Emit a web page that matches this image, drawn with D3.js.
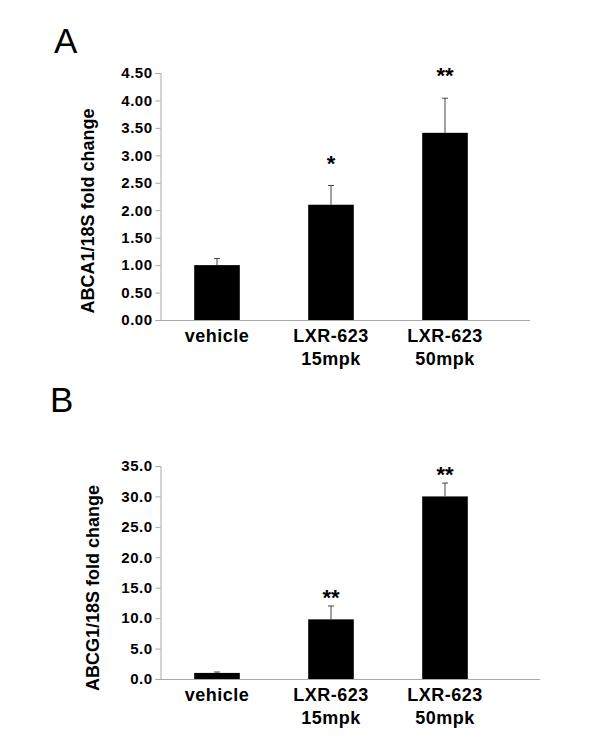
<!DOCTYPE html>
<html>
<head>
<meta charset="utf-8">
<script src="https://cdn.jsdelivr.net/npm/d3@7"></script>
<style>
  body { margin: 0; background: #fff; }
  svg text { font-family: Arial, "Liberation Sans", sans-serif; }
</style>
</head>
<body>
<div id="chart"></div>
<script>
var categories = ["vehicle", "LXR-623 15mpk", "LXR-623 50mpk"];
var abca1Mean = [1.00, 2.10, 3.41];
var abca1Err = [0.12, 0.35, 0.63];
var abca1Stars = ["", "*", "**"];
var abcg1Mean = [1.0, 9.8, 30.0];
var abcg1Err = [0.15, 2.2, 2.2];
var abcg1Stars = ["", "**", "**"];
var abca1Ticks = [0, 0.5, 1, 1.5, 2, 2.5, 3, 3.5, 4, 4.5];
var abcg1Ticks = [0, 5, 10, 15, 20, 25, 30, 35];

var svg = d3.select("#chart")
    .append("svg")
    .attr("width", 600)
    .attr("height", 741);

var x = d3.scaleBand()
    .domain(categories)
    .range([160, 502])
    .paddingInner(0.6)
    .paddingOuter(0.3);

// one panel: letter, axes, bars, error bars, stars
function drawPanel(p) {
    var y = d3.scaleLinear().domain([0, p.max]).range([p.bottom, p.top]);
    var g = svg.append("g");

    g.append("text")
        .attr("x", p.letterX)
        .attr("y", p.letterY)
        .attr("font-size", "35px")
        .text(p.letter);

    // bars
    g.selectAll("rect.bar")
        .data(categories)
        .enter()
        .append("rect")
        .attr("class", "bar")
        .attr("x", function(d) { return x(d); })
        .attr("width", x.bandwidth())
        .attr("y", function(d, i) { return y(p.mean[i]); })
        .attr("height", function(d, i) { return y(0) - y(p.mean[i]); })
        .attr("fill", "#000");

    // upper error bars
    var eb = g.selectAll("g.err")
        .data(categories)
        .enter()
        .append("g")
        .attr("class", "err");
    eb.append("line")
        .attr("x1", function(d) { return x(d) + x.bandwidth() / 2; })
        .attr("x2", function(d) { return x(d) + x.bandwidth() / 2; })
        .attr("y1", function(d, i) { return y(p.mean[i]); })
        .attr("y2", function(d, i) { return y(p.mean[i] + p.err[i]); })
        .attr("stroke", "#444")
        .attr("stroke-width", 1);
    eb.append("line")
        .attr("x1", function(d) { return x(d) + x.bandwidth() / 2 - 3; })
        .attr("x2", function(d) { return x(d) + x.bandwidth() / 2 + 3; })
        .attr("y1", function(d, i) { return y(p.mean[i] + p.err[i]); })
        .attr("y2", function(d, i) { return y(p.mean[i] + p.err[i]); })
        .attr("stroke", "#444")
        .attr("stroke-width", 1);

    // significance stars
    g.selectAll("text.star")
        .data(categories)
        .enter()
        .append("text")
        .attr("class", "star")
        .attr("x", function(d) { return x(d) + x.bandwidth() / 2; })
        .attr("y", function(d, i) { return y(p.mean[i] + p.err[i]) - p.starGap + 12; })
        .attr("text-anchor", "middle")
        .attr("font-size", "22px")
        .attr("font-weight", "bold")
        .text(function(d, i) { return p.stars[i]; });

    // y axis
    var yAxis = g.append("g")
        .attr("transform", "translate(160.5,0)")
        .call(d3.axisLeft(y).tickValues(p.ticks).tickFormat(d3.format(p.fmt)).tickSize(5).tickPadding(3));
    yAxis.select(".domain").attr("stroke", "#a8a8a8");
    yAxis.selectAll(".tick line").attr("stroke", "#a8a8a8");
    yAxis.selectAll(".tick text")
        .attr("fill", "#000")
        .attr("font-size", "15px")
        .attr("font-weight", "bold")
        .attr("letter-spacing", "0.5px")
        .attr("font-family", "Arial, 'Liberation Sans', sans-serif");

    // x axis line
    g.append("line")
        .attr("x1", 160)
        .attr("x2", p.axisEnd)
        .attr("y1", y(0) + 0.5)
        .attr("y2", y(0) + 0.5)
        .attr("stroke", "#a8a8a8");

    // category labels
    var lab = g.selectAll("text.cat")
        .data(categories)
        .enter()
        .append("text")
        .attr("class", "cat")
        .attr("text-anchor", "middle")
        .attr("font-size", "18px")
        .attr("font-weight", "bold")
        .attr("letter-spacing", "0.5px")
        .attr("y", y(0) + 22);
    lab.selectAll("tspan")
        .data(function(d) { return d.split(" "); })
        .enter()
        .append("tspan")
        .attr("x", function() { var c = d3.select(this.parentNode).datum(); return x(c) + x.bandwidth() / 2; })
        .attr("dy", function(d, i) { return i === 0 ? 0 : 23; })
        .text(function(d) { return d; });

    // y axis title
    g.append("text")
        .attr("transform", "translate(" + p.titleX + "," + p.titleY + ") rotate(-90)")
        .attr("text-anchor", "middle")
        .attr("font-size", "18px")
        .attr("font-weight", "bold")
        .text(p.title);
}

drawPanel({
    letter: "A", letterX: 54, letterY: 53,
    mean: abca1Mean, err: abca1Err, stars: abca1Stars,
    max: 4.5, top: 73, bottom: 320, ticks: abca1Ticks, fmt: ".2f",
    starGap: 27, axisEnd: 530,
    title: "ABCA1/18S fold change", titleX: 94, titleY: 211
});

drawPanel({
    letter: "B", letterX: 50, letterY: 412,
    mean: abcg1Mean, err: abcg1Err, stars: abcg1Stars,
    max: 35, top: 466, bottom: 679, ticks: abcg1Ticks, fmt: ".1f",
    starGap: 13, axisEnd: 540,
    title: "ABCG1/18S fold change", titleX: 99, titleY: 588
});
</script>
</body>
</html>
